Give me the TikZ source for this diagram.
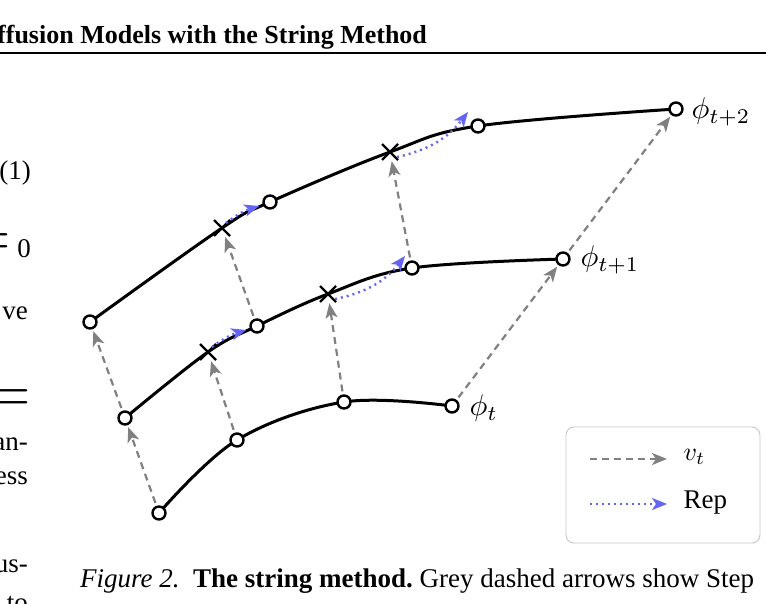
\documentclass[tikz,border=0pt]{standalone}
\usepackage{fontspec}
\setmainfont{Liberation Serif}
\usetikzlibrary{arrows.meta}
\begin{document}
\begin{tikzpicture}[x=1pt,y=-1pt,
  pt/.style={circle,draw=black,fill=white,line width=2.4pt,inner sep=0pt,minimum size=13pt},
  xm/.style={inner sep=0pt,minimum size=14pt},
  str/.style={line width=3pt},
  va/.style={draw=gray,line width=2.2pt,dash pattern=on 7pt off 5pt,-{Stealth[length=15pt,width=12pt,inset=4pt]}},
  rep/.style={draw={rgb,255:red,100;green,100;blue,245},line width=2.4pt,dash pattern=on 2pt off 4pt,-{Stealth[length=15pt,width=12pt,inset=4pt]}},
  lab/.style={anchor=west},
  txt/.style={font=\fontsize{27}{31}\selectfont,inner sep=0pt}]
\useasboundingbox (0,0) rectangle (766,604);
% page fragments
\node[txt,anchor=base west] (hd) at (-3,44) {\fontsize{26}{30}\selectfont\bfseries ffusion Models with the String Method};
\draw[line width=2pt] (0,53) -- (766,53);
\node[txt,anchor=base east] (t1) at (31,180) {(1)};
\node[txt,anchor=base east] (t2) at (31,258) {\scalebox{2.7}{$=$} 0};
\node[txt,anchor=base east] (t3) at (28,319) {ve};
\node[txt,anchor=base east] (t4) at (31,413) {\scalebox{2.7}{$=$}};
\node[txt,anchor=base east] (t5) at (28,450) {an-};
\node[txt,anchor=base east] (t6) at (28,484) {ess};
\node[txt,anchor=base east] (t7) at (28,572) {us-};
\node[txt,anchor=base east] (t8) at (28,611) {to};
\node[txt,anchor=base west] (cap) at (80,587) {\itshape Figure 2.\enspace\upshape\bfseries The string method.\mdseries\ Grey dashed arrows show Step};
% strings
\draw[str] plot[smooth,tension=0.6] coordinates {(159,513) (237,440) (344,402) (452,406)};
\draw[str] plot[smooth,tension=0.6] coordinates {(125,418) (208,352) (257,326) (328,294) (412,268) (563,259)};
\draw[str] plot[smooth,tension=0.6] coordinates {(90,322) (222,228) (270,202) (390,152) (478,126) (676,109)};
% points
\node[pt] (a0) at (159,513) {};
\node[pt] (a1) at (237,440) {};
\node[pt] (a2) at (344,402) {};
\node[pt] (a3) at (452,406) {};
\node[pt] (b0) at (125,418) {};
\node[pt] (b1) at (257,326) {};
\node[pt] (b2) at (412,268) {};
\node[pt] (b3) at (563,259) {};
\node[pt] (c0) at (90,322) {};
\node[pt] (c1) at (270,202) {};
\node[pt] (c2) at (478,126) {};
\node[pt] (c3) at (676,109) {};
\node[xm] (x1) at (208,352) {};
\node[xm] (x2) at (328,294) {};
\node[xm] (x3) at (222,228) {};
\node[xm] (x4) at (390,152) {};
\foreach \n in {x1,x2,x3,x4}{
  \draw[line width=2.4pt] (\n.center) +(-8,-8) -- +(8,8) (\n.center) +(-8,8) -- +(8,-8);}
% labels
\node[lab] (lt) at (466,408) {\scalebox{3}{$\phi_t$}};
\node[lab] (lt1) at (577,260) {\scalebox{3}{$\phi_{t+1}$}};
\node[lab] (lt2) at (688,112) {\scalebox{3}{$\phi_{t+2}$}};
% velocity arrows
\draw[va,shorten <=3pt,shorten >=2pt] (a0) -- (b0);
\draw[va,shorten <=3pt,shorten >=2pt] (a1) -- (x1);
\draw[va,shorten <=3pt,shorten >=2pt] (a2) -- (x2);
\draw[va,shorten <=3pt,shorten >=2pt] (a3) -- (b3);
\draw[va,shorten <=3pt,shorten >=2pt] (b0) -- (c0);
\draw[va,shorten <=3pt,shorten >=2pt] (b1) -- (x3);
\draw[va,shorten <=3pt,shorten >=2pt] (b2) -- (x4);
\draw[va,shorten <=3pt,shorten >=2pt] (b3) -- (c3);
% reparametrisation
\draw[rep] (x1.center) ++(4,-5) to[bend left=10] ([xshift=-3pt,yshift=-4pt]b1.west);
\draw[rep] (x2.center) ++(7,5) to[bend right=20] ([xshift=-7pt,yshift=12pt]b2.center);
\draw[rep] (x3.center) ++(4,-5) to[bend left=10] ([xshift=-3pt,yshift=-4pt]c1.west);
\draw[rep] (x4.center) ++(7,5) to[bend right=20] ([xshift=-10pt,yshift=14pt]c2.center);
% legend
\draw[gray!45,line width=0.9pt,rounded corners=8pt] (566,427) rectangle (760,543);
\coordinate (l1a) at (590,459); \coordinate (l1b) at (667,459);
\coordinate (l2a) at (590,504); \coordinate (l2b) at (667,504);
\draw[va] (l1a) -- (l1b);
\draw[rep] (l2a) -- (l2b);
\node[anchor=west] (lv) at (680,457) {\scalebox{2.6}{$v_t$}};
\node[anchor=west,font=\fontsize{27}{31}\selectfont] (lr) at (680,503) {Rep};
\end{tikzpicture}
\end{document}
